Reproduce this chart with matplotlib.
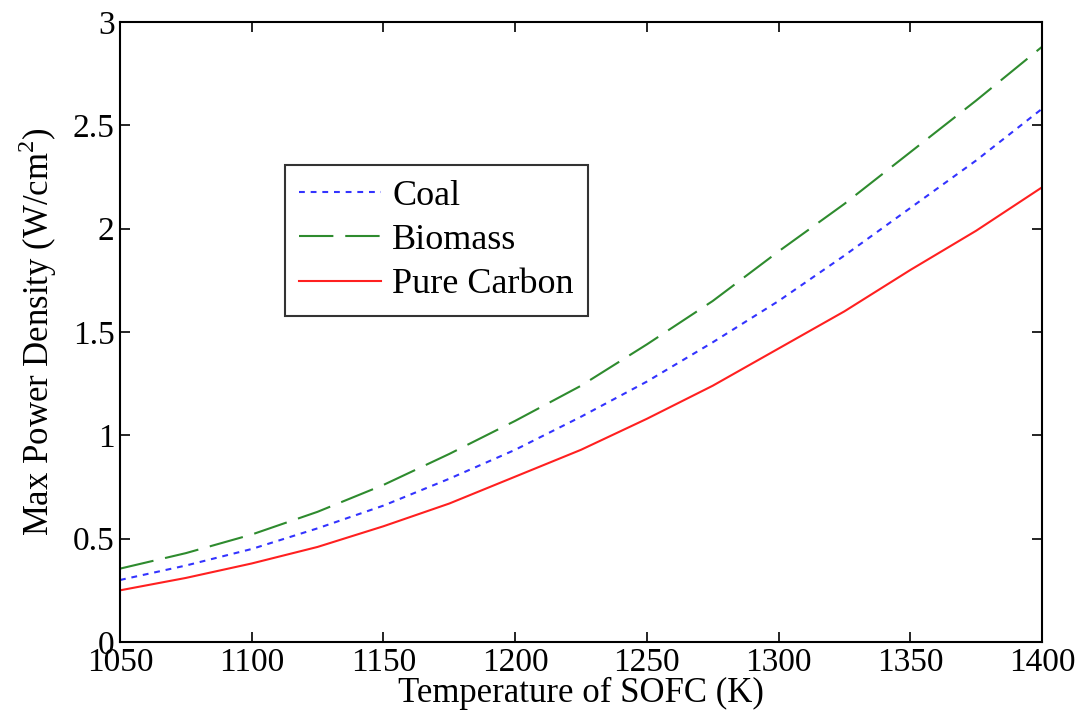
import numpy as np
import matplotlib
matplotlib.use("Agg")
import matplotlib.pyplot as plt

temps = [1050, 1075, 1100, 1125, 1150, 1175, 1200, 1225, 1250, 1275, 1300, 1325, 1350, 1375, 1400]
coal = [0.30, 0.37, 0.45, 0.55, 0.66, 0.79, 0.93, 1.09, 1.26, 1.45, 1.65, 1.87, 2.10, 2.33, 2.58]
biomass = [0.355, 0.43, 0.52, 0.63, 0.76, 0.91, 1.07, 1.24, 1.44, 1.65, 1.89, 2.12, 2.37, 2.62, 2.88]
pure_carbon = [0.25, 0.31, 0.38, 0.46, 0.56, 0.67, 0.80, 0.93, 1.08, 1.24, 1.42, 1.60, 1.80, 1.99, 2.20]

xticks = [1050, 1100, 1150, 1200, 1250, 1300, 1350, 1400]
yticks = [0, 0.5, 1, 1.5, 2, 2.5, 3]
yticklabels = ["0", "0.5", "1", "1.5", "2", "2.5", "3"]


def main():
    plt.rcParams['font.family'] = ['Liberation Serif', 'DejaVu Serif']
    plt.rcParams['mathtext.fontset'] = 'custom'
    plt.rcParams['mathtext.rm'] = 'Liberation Serif'

    fig = plt.figure(figsize=(10.83, 7.23), dpi=100)
    ax = fig.add_axes([120 / 1083, 1 - 642 / 723, 922 / 1083, 620 / 723])

    ax.plot(temps, coal, color='#3333ff', ls=(0, (2.8, 2.8)), lw=1.5, label='Coal')
    ax.plot(temps, biomass, color='#2e8b2e', ls=(0, (16.5, 5.7)), lw=1.5, label='Biomass')
    ax.plot(temps, pure_carbon, color='#ff2020', ls='-', lw=1.5, label='Pure Carbon')

    ax.set_xlim(1050, 1400)
    ax.set_ylim(0, 3)
    ax.set_xticks(xticks)
    ax.set_yticks(yticks)
    ax.set_yticklabels(yticklabels)
    ax.tick_params(direction='in', top=True, right=True, length=7, width=1.2,
                   labelsize=24, pad=4)
    for s in ax.spines.values():
        s.set_linewidth(1.5)

    ax.set_xlabel('Temperature of SOFC (K)', fontsize=25, labelpad=-1)
    ax.set_ylabel('Max Power Density (W/cm$^2$)', fontsize=25, labelpad=10)

    leg = ax.legend(loc='upper left', bbox_to_anchor=(0.179, 0.769), fontsize=26,
                    frameon=True, fancybox=False, edgecolor='black',
                    handlelength=2.27, handletextpad=0.3, borderpad=0.4,
                    borderaxespad=0, labelspacing=0.3)
    leg.get_frame().set_linewidth(1.5)

    fig.savefig("out.png", dpi=100)


if __name__ == "__main__":
    main()
